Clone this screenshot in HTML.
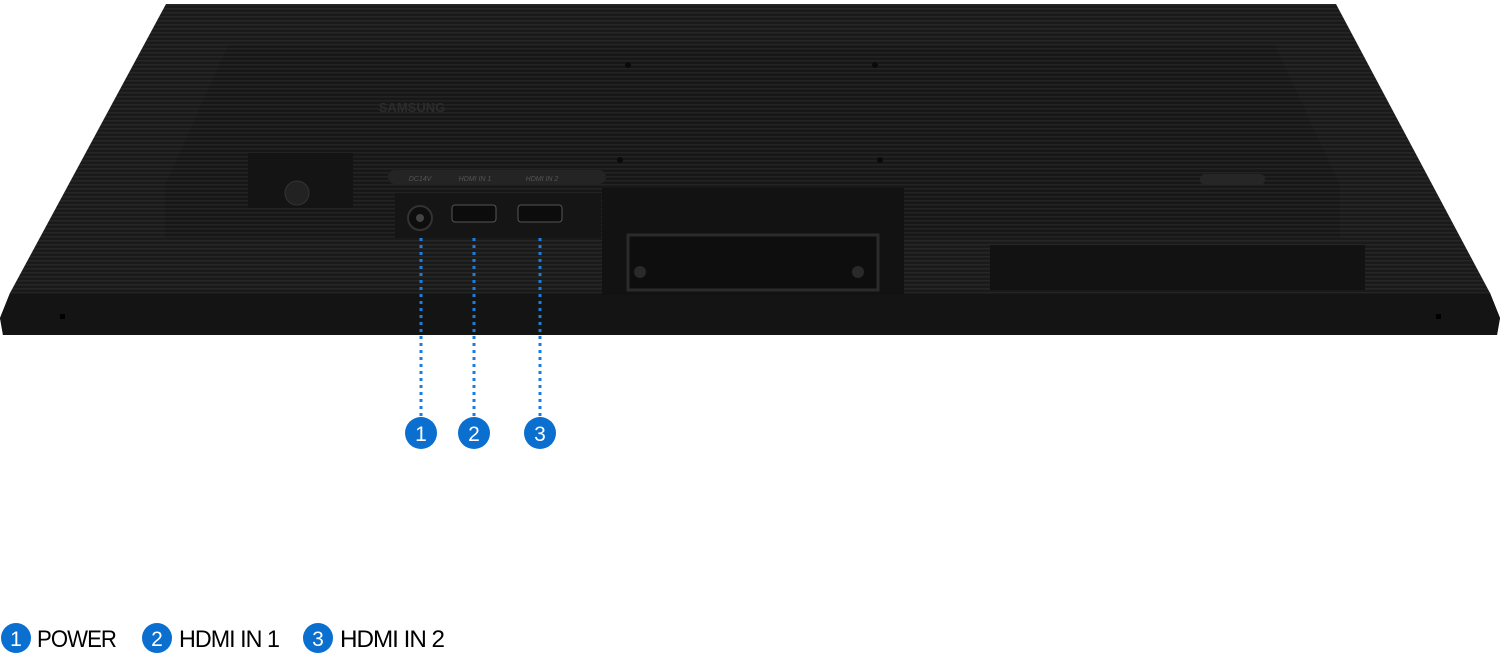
<!DOCTYPE html>
<html><head><meta charset="utf-8"><style>
html,body{margin:0;padding:0;background:#fff;}
svg{display:block}
</style></head><body>
<svg width="1500" height="663" viewBox="0 0 1500 663" xmlns="http://www.w3.org/2000/svg">
<defs>
<pattern id="st" width="4" height="4" patternUnits="userSpaceOnUse">
<rect width="4" height="4" fill="#1a1a1a"/><rect width="4" height="1.5" fill="#262626"/>
</pattern>
<pattern id="st2" width="4" height="4" patternUnits="userSpaceOnUse">
<rect width="4" height="4" fill="#171717"/><rect width="4" height="1.5" fill="#232323"/>
</pattern>
</defs>
<polygon points="166,4 1336,4 1490,293 1500,318 1497,335 3,335 0,318 10,293" fill="url(#st)"/>
<polygon points="10,293 1490,293 1500,318 1497,335 3,335 0,318" fill="#141414"/>
<line x1="10" y1="293" x2="1490" y2="293" stroke="#222" stroke-width="1"/>
<rect x="60" y="314" width="5" height="5" fill="#000"/><rect x="1436" y="314" width="5" height="5" fill="#000"/>
<polygon points="228,45 1275,45 1340,185 1340,238 165,238 165,185" fill="url(#st2)"/>
<text x="412" y="112" font-family="Liberation Sans, sans-serif" font-size="13" font-weight="bold" fill="#2c2c2c" text-anchor="middle">SAMSUNG</text>
<rect x="248" y="153" width="105" height="55" fill="#141414"/>
<circle cx="297" cy="193" r="12" fill="#222" stroke="#333"/>
<rect x="388" y="170" width="218" height="14" rx="7" fill="#242424"/>
<text x="420" y="181" font-family="Liberation Sans, sans-serif" font-size="7" font-style="italic" fill="#555" text-anchor="middle">DC14V</text>
<text x="475" y="181" font-family="Liberation Sans, sans-serif" font-size="7" font-style="italic" fill="#555" text-anchor="middle">HDMI IN 1</text>
<text x="542" y="181" font-family="Liberation Sans, sans-serif" font-size="7" font-style="italic" fill="#555" text-anchor="middle">HDMI IN 2</text>
<rect x="395" y="193" width="206" height="45" fill="#151515"/>
<circle cx="420" cy="218" r="12" fill="#0e0e0e" stroke="#333" stroke-width="2"/>
<circle cx="420" cy="218" r="4" fill="#444"/>
<rect x="452" y="205" width="44" height="17" rx="3" fill="#0c0c0c" stroke="#555"/>
<rect x="518" y="205" width="44" height="17" rx="3" fill="#0c0c0c" stroke="#555"/>
<rect x="602" y="188" width="302" height="107" fill="#121212"/>
<rect x="628" y="235" width="250" height="55" fill="#0e0e0e" stroke="#2b2b2b" stroke-width="3"/>
<circle cx="640" cy="272" r="6" fill="#2a2a2a"/><circle cx="858" cy="272" r="6" fill="#2a2a2a"/>
<rect x="990" y="245" width="375" height="45" fill="#121212"/>
<rect x="1200" y="174" width="65" height="11" rx="5" fill="#262626"/>
<g fill="#0a0a0a"><circle cx="628" cy="65" r="3"/><circle cx="875" cy="65" r="3"/><circle cx="620" cy="160" r="3"/><circle cx="880" cy="160" r="3"/></g>
<g stroke="#1a7ee0" stroke-width="3" stroke-dasharray="3,4">
<line x1="421" y1="238" x2="421" y2="416"/>
<line x1="474" y1="238" x2="474" y2="416"/>
<line x1="540" y1="238" x2="540" y2="416"/>
</g>
<g font-family="Liberation Sans, sans-serif" font-size="21" fill="#fff" text-anchor="middle">
<circle cx="421" cy="433" r="16" fill="#0a6fcf"/><text x="421" y="441">1</text>
<circle cx="474" cy="433" r="16" fill="#0a6fcf"/><text x="474" y="441">2</text>
<circle cx="540" cy="433" r="16" fill="#0a6fcf"/><text x="540" y="441">3</text>
<circle cx="16" cy="638" r="15" fill="#0a6fcf"/><text x="16" y="646">1</text>
<circle cx="157" cy="638" r="15" fill="#0a6fcf"/><text x="157" y="646">2</text>
<circle cx="318" cy="638" r="15" fill="#0a6fcf"/><text x="318" y="646">3</text>
</g>
<g font-family="Liberation Sans, sans-serif" font-size="24" fill="#000" letter-spacing="-1">
<text x="37" y="647" textLength="79" lengthAdjust="spacingAndGlyphs">POWER</text>
<text x="179" y="647" textLength="100" lengthAdjust="spacingAndGlyphs">HDMI IN 1</text>
<text x="340" y="647" textLength="104" lengthAdjust="spacingAndGlyphs">HDMI IN 2</text>
</g>
</svg>
</body></html>
